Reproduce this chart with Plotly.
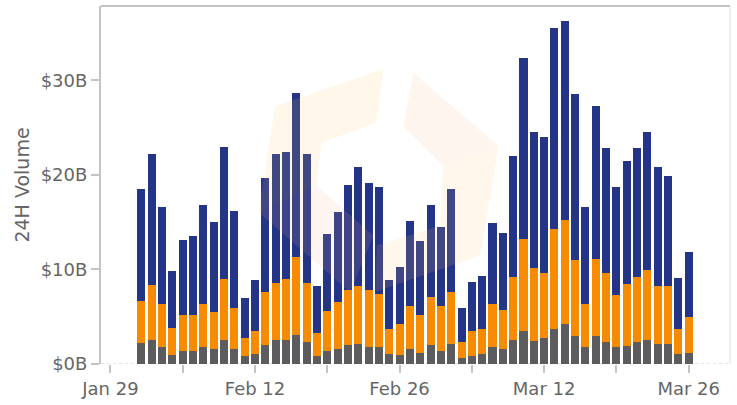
import pandas as pd
import plotly.graph_objects as go

# Daily 24H volume in billions of USD, split into three stacked components
dates = pd.date_range("2018-02-01", "2018-03-26", freq="D")

gray_vol = [2.18, 2.49, 1.75, 0.91, 1.33, 1.33, 1.75, 1.54, 2.49, 1.54,
            0.81, 1.02, 1.96, 2.49, 2.49, 3.12, 2.28, 0.81, 1.33, 1.54,
            1.96, 2.07, 1.75, 1.75, 1.02, 0.91, 1.54, 1.12, 1.96, 1.33,
            2.07, 0.60, 0.81, 1.02, 1.75, 1.54, 2.49, 3.44, 2.39, 2.70,
            3.65, 4.18, 2.91, 1.75, 2.91, 2.28, 1.75, 1.86, 2.28, 2.49,
            2.07, 2.07, 1.02, 1.12]
orange_vol = [4.52, 5.83, 4.64, 2.95, 3.90, 3.90, 4.64, 4.00, 6.53, 4.42,
              1.89, 2.42, 5.69, 6.11, 6.53, 8.21, 6.32, 2.42, 4.32, 5.06,
              5.90, 6.21, 6.11, 5.69, 2.63, 3.37, 4.64, 4.11, 5.16, 4.85,
              5.58, 1.68, 2.63, 2.63, 4.64, 4.21, 6.74, 9.79, 7.79, 6.95,
              10.63, 11.05, 8.11, 4.64, 8.21, 7.37, 5.58, 6.63, 6.95, 7.47,
              6.21, 6.21, 2.63, 3.90]
navy_vol = [11.79, 13.86, 10.21, 6.00, 7.89, 8.31, 10.42, 9.48, 13.89, 10.22,
            4.32, 5.47, 12.00, 13.58, 13.37, 17.37, 13.58, 5.05, 8.10, 9.47,
            11.05, 12.53, 11.26, 11.26, 5.26, 6.00, 8.94, 7.79, 9.69, 8.31,
            10.84, 3.68, 5.26, 5.68, 8.52, 8.11, 12.73, 19.16, 14.31, 14.31,
            21.26, 21.05, 17.58, 10.21, 16.21, 13.16, 11.37, 12.95, 13.58, 14.53,
            12.53, 11.58, 5.47, 6.84]

y_tick_vals = [0, 10, 20, 30]
y_tick_text = ["$0B", "$10B", "$20B", "$30B"]
x_tick_vals = pd.date_range("2018-01-29", "2018-03-26", freq="7D")
x_tick_text = ["Jan 29", "", "Feb 12", "", "Feb 26", "", "Mar 12", "", "Mar 26"]

GRAY = "#5c5c5e"
ORANGE = "#f78b00"
NAVY = "#243587"
AXIS = "#c4c4c4"
TEXT = "#666666"
FONT = "DejaVu Sans"

fig = go.Figure()
for vals, color in [(gray_vol, GRAY), (orange_vol, ORANGE), (navy_vol, NAVY)]:
    fig.add_trace(go.Bar(x=dates, y=vals, marker=dict(color=color, line=dict(width=0)),
                         showlegend=False))


def poly(points):
    return "M " + " L ".join(f"{x},{y}" for x, y in points) + " Z"


# faint logo watermark drawn over the plot area
logo = [
    ([(0.2768, 0.7200), (0.4490, 0.8240), (0.4374, 0.6739), (0.3510, 0.6183),
      (0.3420, 0.4976), (0.2502, 0.4237)], "rgb(252,200,95)"),
    ([(0.2502, 0.4237), (0.3420, 0.4976), (0.4331, 0.3586), (0.3961, 0.2013)],
     "rgb(248,170,140)"),
    ([(0.4967, 0.8129), (0.6319, 0.6088), (0.5445, 0.5532), (0.4808, 0.6644)],
     "rgb(250,185,120)"),
    ([(0.6319, 0.6088), (0.6028, 0.3030), (0.4358, 0.2013), (0.4385, 0.3308),
      (0.5392, 0.3864), (0.5445, 0.5532)], "rgb(252,195,110)"),
]
shapes = []
for pts, col in logo:
    shapes.append(dict(type="path", xref="paper", yref="paper", path=poly(pts),
                       fillcolor=col, opacity=0.13, line=dict(width=0), layer="above"))

# dotted baseline, top frame and right frame
shapes.append(dict(type="line", xref="paper", yref="y", x0=0, x1=1, y0=0, y1=0,
                   line=dict(color="#cccccc", width=1, dash="dot"), layer="below"))
shapes.append(dict(type="line", xref="paper", yref="paper", x0=0, x1=1, y0=1, y1=1,
                   line=dict(color=AXIS, width=2)))
shapes.append(dict(type="line", xref="paper", yref="paper", x0=1, x1=1, y0=0, y1=1,
                   line=dict(color="#dddddd", width=1)))

fig.update_layout(
    width=737, height=405,
    margin=dict(l=101, r=7, t=6, b=39),
    barmode="stack", bargap=0.22,
    plot_bgcolor="white", paper_bgcolor="white",
    font=dict(family=FONT, size=18, color=TEXT),
    shapes=shapes,
    xaxis=dict(
        type="date", range=["2018-01-28 02:00", "2018-03-30"],
        tickmode="array", tickvals=x_tick_vals, ticktext=x_tick_text,
        ticks="outside", ticklen=8, tickwidth=2, tickcolor=AXIS,
        showgrid=False, zeroline=False, showline=False,
        tickfont=dict(family=FONT, size=18, color=TEXT),
    ),
    yaxis=dict(
        range=[0, 37.86], tickmode="array", tickvals=y_tick_vals, ticktext=y_tick_text,
        ticks="outside", ticklen=8, tickwidth=2, tickcolor=AXIS,
        showgrid=False, zeroline=False, showline=True, linewidth=2, linecolor=AXIS,
        tickfont=dict(family=FONT, size=18, color=TEXT),
        title=dict(text="24H Volume", font=dict(family=FONT, size=19, color=TEXT), standoff=6),
    ),
)

fig.write_html("out.html")
